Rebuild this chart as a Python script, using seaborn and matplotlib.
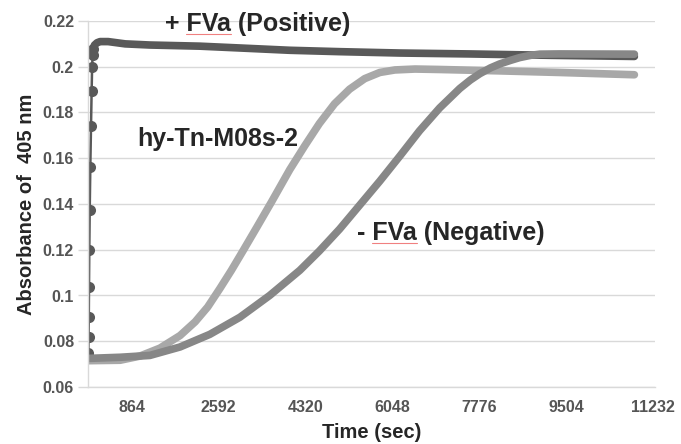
import matplotlib
matplotlib.use("Agg")
import matplotlib.pyplot as plt
import seaborn as sns
from matplotlib.lines import Line2D
from matplotlib.ticker import FixedLocator, FuncFormatter

# ------------------------------------------------------------
# Data
# ------------------------------------------------------------
pos_time = [0, 8, 12, 16, 20, 26, 34, 46, 60, 72, 82, 92, 104, 130, 180, 240,
            400, 740, 1230, 2220, 3220, 4010, 5000, 6200, 7590, 9180, 10860]
pos_abs = [0.0725, 0.0749, 0.0820, 0.0908, 0.1038, 0.1200, 0.1372, 0.1560,
           0.1742, 0.1892, 0.2001, 0.2052, 0.2077, 0.2095, 0.2105, 0.2110,
           0.2110, 0.2100, 0.2095, 0.2090, 0.2080, 0.2072, 0.2066, 0.2060,
           0.2056, 0.2050, 0.2045]

hy_time = [0, 640, 1030, 1430, 1830, 2130, 2380, 2620, 2850, 3080, 3360,
           3650, 4010, 4310, 4600, 4900, 5200, 5500, 5800, 6100, 6500, 7000,
           8180, 9370, 10860]
hy_abs = [0.0715, 0.0717, 0.0735, 0.0770, 0.0825, 0.0885, 0.0950, 0.1030,
          0.1110, 0.1195, 0.1300, 0.1410, 0.1550, 0.1655, 0.1752, 0.1838,
          0.1902, 0.1948, 0.1975, 0.1986, 0.1990, 0.1988, 0.1982, 0.1975,
          0.1965]

neg_time = [0, 640, 1230, 1830, 2420, 3020, 3610, 4210, 4600, 5000, 5400,
            5800, 6200, 6590, 6990, 7390, 7600, 7790, 8000, 8180, 8400, 8580,
            8800, 8980, 9370, 10860]
neg_abs = [0.0725, 0.0730, 0.0738, 0.0775, 0.0830, 0.0905, 0.1000, 0.1110,
           0.1195, 0.1290, 0.1395, 0.1500, 0.1610, 0.1720, 0.1820, 0.1905,
           0.1942, 0.1970, 0.1995, 0.2012, 0.2028, 0.2040, 0.2050, 0.2055,
           0.2056, 0.2055]

x_ticks = [864, 2592, 4320, 6048, 7776, 9504, 11232]
y_ticks = [0.06, 0.08, 0.10, 0.12, 0.14, 0.16, 0.18, 0.20, 0.22]

# ------------------------------------------------------------
# Style
# ------------------------------------------------------------
sns.set_style("white")
plt.rcParams['font.family'] = ['Liberation Sans', 'DejaVu Sans']
plt.rcParams['font.weight'] = 'bold'

W, H = 681, 444
fig = plt.figure(figsize=(W / 100, H / 100), dpi=100)
ax = fig.add_axes([88 / W, 1 - 387 / H, (655 - 88) / W, (387 - 21) / H])

line_kws = dict(estimator=None, sort=False, solid_capstyle='round',
                solid_joinstyle='round')

# + FVa (positive): thin line with markers on the rise, thick plateau
n_rise = 13
sns.lineplot(x=pos_time, y=pos_abs, ax=ax, color='#595959', linewidth=1.8,
             marker='o', markersize=8, markeredgewidth=0,
             markevery=list(range(n_rise)), **line_kws)
sns.lineplot(x=pos_time[n_rise - 2:], y=pos_abs[n_rise - 2:], ax=ax,
             color='#595959', linewidth=5.5, **line_kws)

# hy-Tn-M08s-2
sns.lineplot(x=hy_time, y=hy_abs, ax=ax, color='#a8a8a8', linewidth=5.5,
             **line_kws)

# - FVa (negative)
sns.lineplot(x=neg_time, y=neg_abs, ax=ax, color='#878787', linewidth=5.5,
             **line_kws)

# ------------------------------------------------------------
# Axes
# ------------------------------------------------------------
ax.set_xlim(0, 11270)
ax.set_ylim(0.06, 0.22)
ax.xaxis.set_major_locator(FixedLocator(x_ticks))
ax.yaxis.set_major_locator(FixedLocator(y_ticks))
ax.yaxis.set_major_formatter(FuncFormatter(lambda v, p: f"{v:g}"))

ax.yaxis.grid(True, color='#d9d9d9', linewidth=1)
ax.xaxis.grid(False)
ax.set_axisbelow(True)
for side in ['top', 'right']:
    ax.spines[side].set_visible(False)
for side in ['left', 'bottom']:
    ax.spines[side].set_color('#d9d9d9')
    ax.spines[side].set_linewidth(1)

ax.tick_params(axis='y', left=True, length=7, width=1, color='#d9d9d9',
               pad=3, labelsize=11.5, labelcolor='#555555')
ax.tick_params(axis='x', bottom=False, length=0, pad=9, labelsize=11.5,
               labelcolor='#555555')

ax.set_xlabel("Time (sec)", fontsize=14.5, fontweight='bold', labelpad=6)
ax.set_ylabel("Absorbance of  405 nm", fontsize=14.5, fontweight='bold',
              labelpad=5)

# ------------------------------------------------------------
# Annotations
# ------------------------------------------------------------
labels = [
    (1529, 0.2188, "+ ", "FVa", " (Positive)"),
    (973, 0.1685, "", "hy-Tn-M08s-2", ""),
    (5342, 0.1274, "- ", "FVa", " (Negative)"),
]
texts = []
for x, y, pre, mid, post in labels:
    t = ax.text(x, y, pre + mid + post, fontsize=18, fontweight='bold',
                va='center', ha='left', clip_on=False)
    texts.append((t, pre, mid))

# spell-check squiggles under "FVa"
fig.canvas.draw()
for lab in ax.get_xticklabels() + ax.get_yticklabels():
    lab.set_fontweight('bold')
renderer = fig.canvas.get_renderer()
for t, pre, mid in texts:
    if mid != "FVa":
        continue
    bb = t.get_window_extent(renderer)
    prop = t.get_fontproperties()
    w_pre = renderer.get_text_width_height_descent(pre, prop, ismath=False)[0]
    w_mid = renderer.get_text_width_height_descent(mid, prop, ismath=False)[0]
    x0 = (bb.x0 + w_pre) / W
    x1 = (bb.x0 + w_pre + w_mid) / W
    yy = (bb.y0 + 2) / H
    fig.add_artist(Line2D([x0, x1], [yy, yy], color='#f08080', linewidth=0.8))

fig.savefig("out.png", dpi=100)
plt.close(fig)
